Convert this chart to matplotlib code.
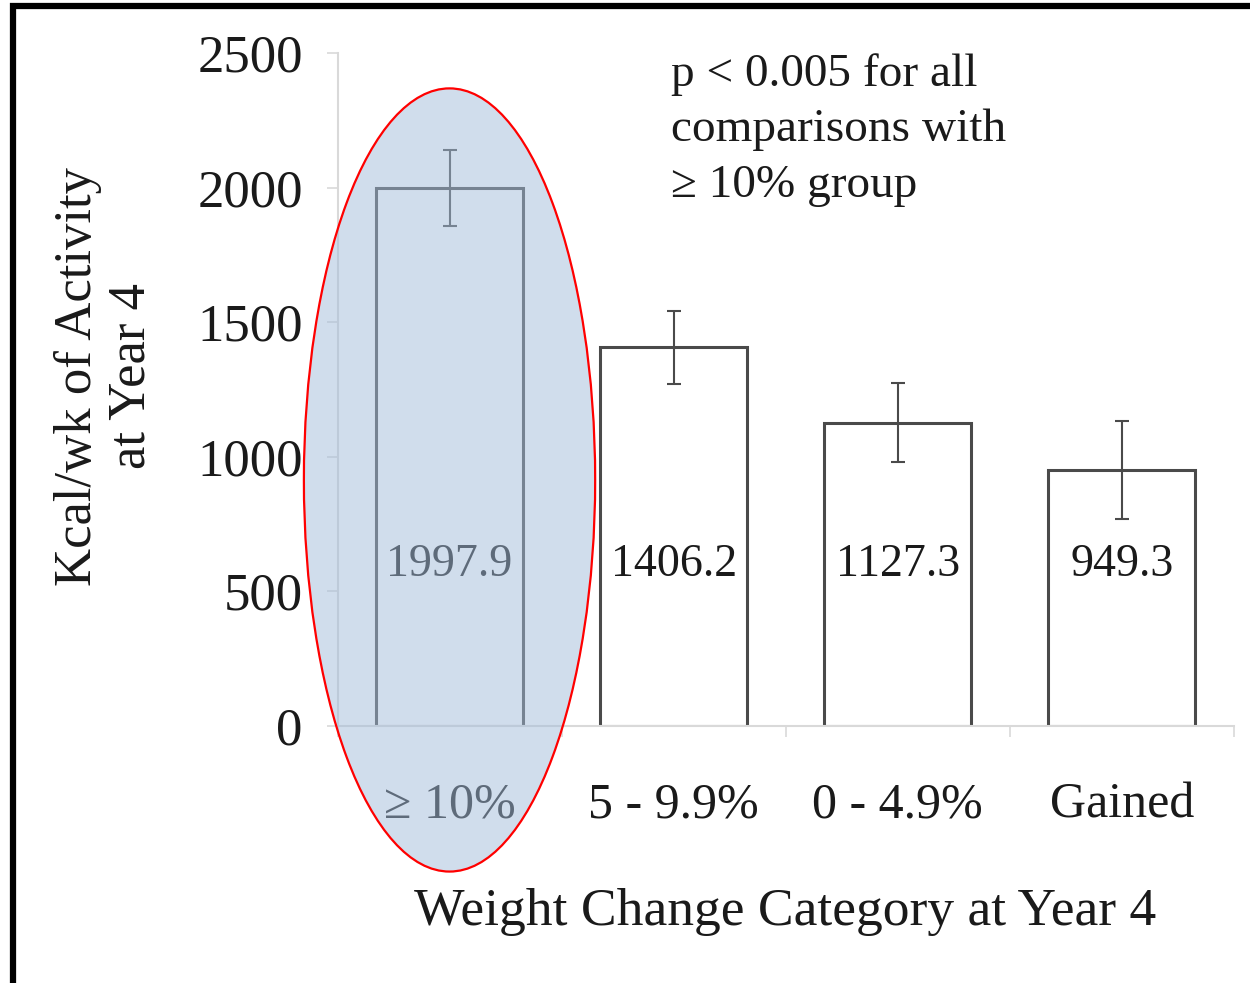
import numpy as np
import matplotlib.pyplot as plt
from matplotlib.patches import Ellipse, Rectangle

# ---- Data ----
categories = ['\u2265 10%', '5 - 9.9%', '0 - 4.9%', 'Gained']
kcal = [1997.9, 1406.2, 1127.3, 949.3]
err = [142, 137, 148, 182]
yticks = [0, 500, 1000, 1500, 2000, 2500]

plt.rcParams['font.family'] = ['Liberation Serif', 'DejaVu Serif']
text_col = '#1a1a1a'
axis_col = '#d9d9d9'

fig = plt.figure(figsize=(12.5, 9.83), dpi=100)
ax = fig.add_axes([0.270, 0.2614, 0.717, 0.6847])

x = np.arange(len(categories))
ax.bar(x, kcal, width=0.655, color='white', edgecolor='#4a4a4a', linewidth=2.2, zorder=2)
ax.errorbar(x, kcal, yerr=err, fmt='none', ecolor='#4a4a4a', elinewidth=1.5,
            capsize=5, capthick=1.5, zorder=3)

# value labels inside the bars
for xi, v in zip(x, kcal):
    ax.text(xi, 618, f'{v:.1f}', ha='center', va='center_baseline', fontsize=33,
            color=text_col, zorder=4)

ax.set_xlim(-0.5, len(categories) - 0.5)
ax.set_ylim(0, 2500)
ax.set_yticks(yticks)
ax.set_yticklabels([str(t) for t in yticks], fontsize=38, color=text_col)
ax.set_xticks(x)
ax.set_xticklabels(categories, fontsize=36, color=text_col)
ax.set_xticks(np.arange(len(categories) + 1) - 0.5, minor=True)
ax.tick_params(axis='x', which='major', length=0, pad=40)
ax.tick_params(axis='x', which='minor', length=8, color=axis_col, width=1.2)
ax.tick_params(axis='y', length=8, color=axis_col, width=1.2, pad=17)

for side in ['top', 'right']:
    ax.spines[side].set_visible(False)
for side in ['left', 'bottom']:
    ax.spines[side].set_color(axis_col)
    ax.spines[side].set_linewidth(1.5)

ax.set_xlabel('Weight Change Category at Year 4', fontsize=38.5, color=text_col, labelpad=43)
ax.set_ylabel('Kcal/wk of Activity\nat Year 4', fontsize=38, color=text_col,
              linespacing=1.15)
ax.yaxis.set_label_coords(-0.203, 0.52)

ax.text(0.99, 2500, 'p < 0.005 for all\ncomparisons with\n\u2265 10% group',
        ha='left', va='top', fontsize=34, color=text_col, linespacing=1.4)

# highlight the top group
shade = Ellipse((0.0, 914), width=1.30, height=2909, facecolor='#a3bcda', alpha=0.5,
                edgecolor='none', clip_on=False, zorder=5)
ring = Ellipse((0.0, 914), width=1.30, height=2909, facecolor='none', edgecolor='red',
               linewidth=1.6, clip_on=False, zorder=6)
ax.add_patch(shade)
ax.add_patch(ring)

# frame along the top and left edges
fig.patches.append(Rectangle((0.0105, -0.1), 1.2, 1.094, transform=fig.transFigure,
                             fill=False, edgecolor='black', linewidth=4.5))

fig.savefig('out.png', dpi=100)
